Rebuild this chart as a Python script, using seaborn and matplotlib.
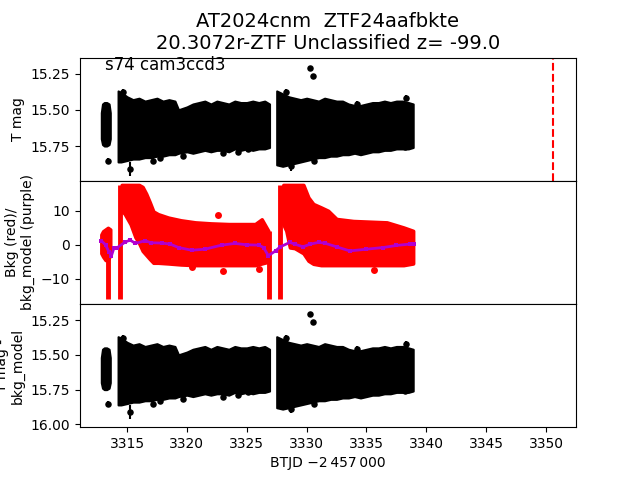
import numpy as np
import matplotlib
matplotlib.use("Agg")
import matplotlib.pyplot as plt
import seaborn as sns

# ---- light curve envelope (T mag) ----
lc_t0 = [3312.85, 3312.95, 3313.1, 3313.3, 3313.5, 3313.6]
lc_top0 = [15.52, 15.46, 15.45, 15.45, 15.46, 15.52]
lc_bot0 = [15.70, 15.74, 15.75, 15.75, 15.74, 15.70]

lc_t1 = [3314.25, 3314.5, 3315.0, 3315.5, 3316.0, 3316.5, 3317.0, 3317.5, 3318.0,
         3318.5, 3319.0, 3319.3, 3320.0, 3320.5, 3321.0, 3321.5, 3322.0, 3322.5,
         3323.0, 3323.5, 3324.0, 3324.5, 3325.0, 3325.5, 3326.0, 3326.5, 3326.9]
lc_top1 = [15.37, 15.38, 15.41, 15.43, 15.42, 15.44, 15.43, 15.42, 15.44,
           15.43, 15.44, 15.50, 15.48, 15.46, 15.45, 15.44, 15.46, 15.44,
           15.45, 15.46, 15.44, 15.45, 15.45, 15.44, 15.45, 15.44, 15.46]
lc_bot1 = [15.86, 15.86, 15.85, 15.84, 15.84, 15.83, 15.83, 15.82, 15.82,
           15.81, 15.81, 15.80, 15.79, 15.80, 15.79, 15.78, 15.79, 15.78,
           15.78, 15.79, 15.77, 15.78, 15.77, 15.78, 15.77, 15.77, 15.76]

lc_t2 = [3327.5, 3328.0, 3328.5, 3329.0, 3329.5, 3330.0, 3330.5, 3331.0, 3331.5,
         3332.0, 3332.5, 3333.0, 3333.5, 3334.0, 3334.5, 3335.0, 3335.5, 3336.0,
         3336.5, 3337.0, 3337.5, 3338.0, 3338.5, 3338.9]
lc_top2 = [15.37, 15.39, 15.41, 15.42, 15.43, 15.42, 15.43, 15.44, 15.42,
           15.43, 15.44, 15.44, 15.46, 15.47, 15.47, 15.46, 15.45, 15.45,
           15.44, 15.45, 15.44, 15.44, 15.45, 15.46]
lc_bot2 = [15.88, 15.89, 15.88, 15.87, 15.86, 15.85, 15.84, 15.83, 15.83,
           15.82, 15.82, 15.81, 15.81, 15.80, 15.81, 15.80, 15.79, 15.79,
           15.78, 15.78, 15.77, 15.77, 15.77, 15.76]

# isolated points with error bars
out_t = [3313.44, 3315.25, 3317.15, 3317.76, 3319.65, 3323.05, 3324.3, 3325.13,
         3328.67, 3330.65, 3335.02, 3338.23, 3314.64, 3328.28, 3334.2, 3338.3,
         3330.29, 3330.54]
out_mag = [15.85, 15.91, 15.85, 15.83, 15.82, 15.80, 15.79, 15.77,
           15.89, 15.85, 15.77, 15.76, 15.38, 15.38, 15.46, 15.42,
           15.21, 15.265]
out_err = [0.02, 0.05, 0.02, 0.02, 0.02, 0.02, 0.02, 0.02,
           0.03, 0.02, 0.02, 0.02, 0.02, 0.02, 0.02, 0.02,
           0.01, 0.01]

# ---- background (red) envelope ----
bkg_t0 = [3312.85, 3313.0, 3313.2, 3313.4, 3313.6]
bkg_hi0 = [3.0, 4.0, 4.5, 5.0, 4.5]
bkg_lo0 = [-2.5, -3.5, -4.5, -4.5, -3.0]

bkg_t1 = [3314.55, 3314.8, 3315.3, 3315.7, 3316.0, 3316.3, 3316.6, 3316.9, 3317.2,
          3317.6, 3318.45, 3319.5, 3320.7, 3322.0, 3323.5, 3324.5, 3325.7, 3326.25,
          3326.8]
bkg_hi1 = [17.6, 17.6, 17.6, 17.6, 17.6, 17.0, 15.0, 12.5, 9.8,
           9.0, 8.0, 7.2, 6.6, 6.3, 6.1, 6.1, 6.1, 7.5, 4.1]
bkg_lo1 = [10.0, 9.1, 6.0, 2.2, 0.5, -1.8, -3.0, -4.2, -5.3,
           -5.3, -5.5, -5.8, -6.0, -6.0, -6.0, -6.0, -6.0, -5.5, -5.0]

bkg_t2 = [3328.05, 3328.3, 3328.6, 3329.0, 3329.73, 3330.15, 3330.56, 3331.2, 3331.8,
          3332.5, 3333.9, 3335.3, 3336.7, 3338.1, 3338.9]
bkg_hi2 = [17.6, 17.6, 17.6, 17.6, 17.6, 13.9, 12.0, 11.0, 10.0,
           7.6, 7.0, 6.8, 6.6, 5.1, 4.1]
bkg_lo2 = [6.0, 4.1, -0.8, -1.0, -2.5, -4.7, -5.6, -6.0, -6.0,
           -6.0, -6.0, -6.0, -6.0, -6.0, -5.5]

# narrow vertical columns (time, low, high)
col_t = [3313.44, 3314.4, 3326.85, 3327.75]
col_lo = [-15.9, -15.9, -16.0, -16.0]
col_hi = [-4.0, 17.6, 4.0, 17.6]

bkg_out_t = [3322.6, 3331.7, 3335.6, 3323.05, 3326.0, 3320.4]
bkg_out_v = [8.8, 9.0, -7.4, -7.6, -7.1, -6.5]

# ---- background model (purple) ----
mod_t = [3312.85, 3313.2, 3313.5, 3313.7, 3313.9, 3314.2, 3314.8, 3315.25, 3315.7,
         3316.5, 3317.0, 3317.9, 3318.6, 3319.3, 3320.4, 3321.5, 3322.9, 3324.0,
         3325.0, 3326.0, 3326.4, 3326.8, 3327.4, 3327.8, 3328.6, 3329.0, 3329.7,
         3330.3, 3331.0, 3331.5, 3332.5, 3333.6, 3335.0, 3336.4, 3337.5, 3338.6,
         3339.0]
mod_v = [1.2, 0.0, -2.2, -3.2, -1.0, -0.8, 0.7, 1.4, 0.4,
         1.2, 0.6, 0.5, 0.2, -0.8, -1.6, -1.3, -0.1, 0.4,
         0.0, -0.1, -0.8, -3.2, -1.8, -0.6, 0.7, 0.2, -0.6,
         0.2, 0.7, 0.5, -0.6, -1.8, -1.3, -0.8, -0.2, 0.2,
         0.3]

vline_t = 3350.6
title = "AT2024cnm  ZTF24aafbkte\n20.3072r-ZTF Unclassified z= -99.0"

fig, axes = plt.subplots(3, 1, sharex=True, figsize=(6.4, 4.8), dpi=100)
fig.subplots_adjust(hspace=0)


def draw_lc(ax):
    for t, top, bot in [(lc_t0, lc_top0, lc_bot0), (lc_t1, lc_top1, lc_bot1),
                        (lc_t2, lc_top2, lc_bot2)]:
        ax.fill_between(t, top, bot, color="black", lw=1.5, edgecolor="black")
    ax.errorbar(out_t, out_mag, yerr=out_err, fmt="none", ecolor="black", lw=1.5)
    sns.scatterplot(x=out_t, y=out_mag, ax=ax, color="black", s=22,
                    edgecolor="black", linewidth=0)


ax1, ax2, ax3 = axes
draw_lc(ax1)
ax1.axvline(vline_t, color="red", ls="--", lw=1.5)
ax1.set_ylim(15.99, 15.14)
ax1.set_yticks([15.25, 15.50, 15.75])
ax1.set_ylabel("T mag")
ax1.set_title(title, fontsize=14)
ax1.text(0.05, 0.9, "s74 cam3ccd3", transform=ax1.transAxes, fontsize=12)

for t, hi, lo in [(bkg_t0, bkg_hi0, bkg_lo0), (bkg_t1, bkg_hi1, bkg_lo1),
                  (bkg_t2, bkg_hi2, bkg_lo2)]:
    ax2.fill_between(t, lo, hi, color="red", lw=2.5, edgecolor="red")
ax2.vlines(col_t, col_lo, col_hi, color="red", lw=3.5)
sns.scatterplot(x=bkg_out_t, y=bkg_out_v, ax=ax2, color="red", s=25, linewidth=0)
sns.lineplot(x=mod_t, y=mod_v, ax=ax2, color="#b000d0", lw=2,
             marker="s", markersize=2.5, markeredgewidth=0)
ax2.set_ylim(-17.4, 18.8)
ax2.set_yticks([-10, 0, 10])
ax2.set_ylabel("Bkg (red)/\nbkg_model (purple)")

draw_lc(ax3)
ax3.set_ylim(16.02, 15.135)
ax3.set_yticks([15.25, 15.50, 15.75, 16.00])
ax3.set_ylabel("T mag -\nbkg_model")

ax3.set_xlim(3311.07, 3352.5)
ax3.set_xticks([3315, 3320, 3325, 3330, 3335, 3340, 3345, 3350])
ax3.set_xlabel("BTJD \u22122\u2009457\u2009000")

fig.savefig("out.png", dpi=100)
